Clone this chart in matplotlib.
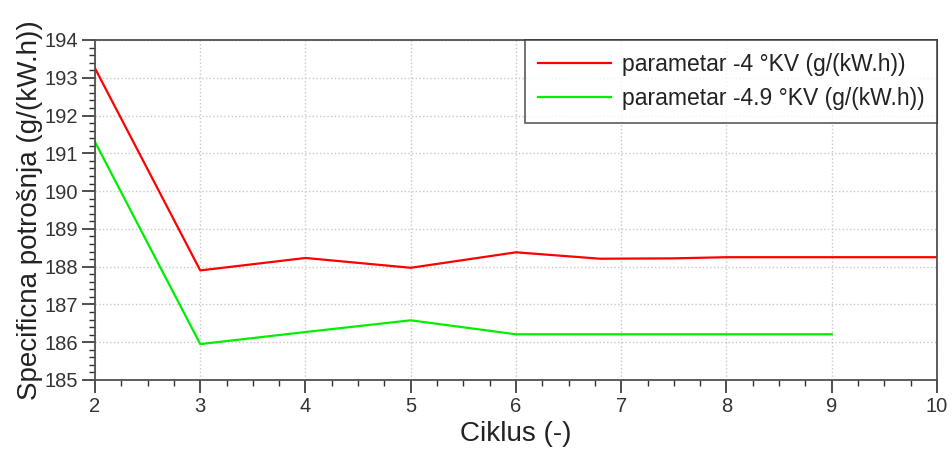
import matplotlib.pyplot as plt
from matplotlib.ticker import MultipleLocator

# data
ciklus_red = [2, 3, 4, 5, 6, 6.8, 7.5, 8, 9, 10]
potr_red = [193.25, 187.9, 188.23, 187.97, 188.38, 188.21, 188.22, 188.25, 188.25, 188.25]
ciklus_green = [2, 3, 4, 5, 6, 7, 8, 9]
potr_green = [191.3, 185.95, 186.27, 186.58, 186.21, 186.21, 186.21, 186.21]

label_red = 'parametar -4 °KV (g/(kW.h))'
label_green = 'parametar -4.9 °KV (g/(kW.h))'

plt.rcParams['font.family'] = ['Liberation Sans', 'DejaVu Sans']

fig = plt.figure(figsize=(9.52, 4.57), dpi=100)
ax = fig.add_axes([0.0998, 0.1685, 0.8844, 0.744])

ax.plot(ciklus_red, potr_red, color='#ff0000', lw=1.6, label=label_red)
ax.plot(ciklus_green, potr_green, color='#00ee00', lw=1.6, label=label_green)

ax.set_xlim(2, 10)
ax.set_ylim(185, 194)
ax.xaxis.set_major_locator(MultipleLocator(1))
ax.xaxis.set_minor_locator(MultipleLocator(0.25))
ax.yaxis.set_major_locator(MultipleLocator(1))
ax.yaxis.set_minor_locator(MultipleLocator(0.2))

ax.grid(True, which='major', color='#c8c8c8', linestyle=':', linewidth=1.0)
for s in ax.spines.values():
    s.set_color('#505050')
    s.set_linewidth(1.3)

ax.tick_params(which='major', direction='out', length=9.5, width=1.2, color='#303030',
               labelsize=14.5, labelcolor='#333333', pad=3)
ax.tick_params(axis='y', which='major', pad=3)
ax.tick_params(which='minor', direction='out', length=4.5, width=1.0, color='#303030')
ax.tick_params(top=False, right=False, which='both')

ax.set_xlabel('Ciklus (-)', fontsize=20, color='#222222', labelpad=3)
ax.set_ylabel('Specificna potrošnja (g/(kW.h))', fontsize=20, color='#222222', labelpad=1)

leg = ax.legend(loc='upper right', fontsize=16.5, frameon=True, fancybox=False,
                borderaxespad=0, handlelength=3.2, handletextpad=0.45,
                borderpad=0.55, labelspacing=0.5, edgecolor='#303030')
leg.get_frame().set_linewidth(1.2)
for t in leg.get_texts():
    t.set_color('#222222')

fig.savefig('out.png', dpi=100)
